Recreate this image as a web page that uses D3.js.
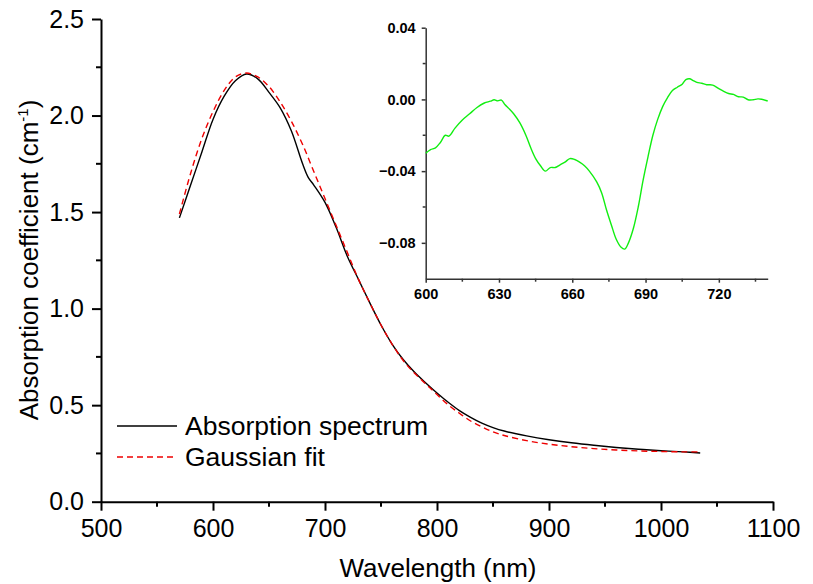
<!DOCTYPE html>
<html>
<head>
<meta charset="utf-8">
<script src="https://cdn.jsdelivr.net/npm/d3@7"></script>
<style>
  body { margin: 0; background: #fff; }
  svg { display: block; font-family: "Liberation Sans", Arial, sans-serif; }
</style>
</head>
<body>
<svg id="chart" width="813" height="584"></svg>
<script>
// absorption spectrum (black)
const specWl = [570, 580, 590, 600, 610, 620, 630, 640, 650, 660, 670, 680, 685, 690, 700, 710, 720, 730, 740, 750, 760, 770, 780, 790, 800, 810, 820, 830, 840, 850, 860, 880, 900, 920, 940, 960, 980, 1000, 1020, 1035];
const specVal = [1.47, 1.64, 1.81, 1.98, 2.10, 2.18, 2.215, 2.19, 2.12, 2.04, 1.92, 1.75, 1.68, 1.64, 1.55, 1.42, 1.27, 1.15, 1.03, 0.915, 0.815, 0.735, 0.67, 0.615, 0.563, 0.515, 0.472, 0.437, 0.407, 0.384, 0.366, 0.341, 0.321, 0.305, 0.292, 0.281, 0.272, 0.264, 0.258, 0.252];

// gaussian fit (red dashed)
const fitWl = [570, 580, 590, 600, 610, 620, 630, 640, 650, 660, 670, 680, 690, 700, 710, 720, 730, 740, 750, 760, 770, 780, 790, 800, 810, 820, 830, 840, 850, 860, 880, 900, 920, 940, 960, 980, 1000, 1020, 1035];
const fitVal = [1.49, 1.70, 1.88, 2.02, 2.13, 2.20, 2.22, 2.20, 2.15, 2.07, 1.97, 1.85, 1.71, 1.57, 1.43, 1.29, 1.15, 1.03, 0.915, 0.815, 0.73, 0.665, 0.61, 0.555, 0.502, 0.458, 0.418, 0.388, 0.362, 0.343, 0.316, 0.298, 0.285, 0.275, 0.268, 0.263, 0.26, 0.258, 0.258];

// inset: difference spectrum (green)
const diffWl = [600, 602, 604, 606, 608, 609.5, 612, 615, 618, 621, 624, 626.5, 628, 629.5, 631, 632.5, 634, 636, 638.5, 641, 643, 645, 647, 649, 651, 653, 655, 657, 659, 661, 663, 665, 667, 670, 672, 674, 676, 678, 680, 681.5, 683, 685, 687, 689, 691, 693, 695, 697, 699, 701, 703, 705, 706.5, 708, 709.5, 711, 713, 715, 717.5, 720, 722, 724, 726, 728, 730, 732, 734, 736, 737.5, 740];
const diffVal = [-0.030, -0.028, -0.027, -0.024, -0.020, -0.0205, -0.016, -0.0115, -0.008, -0.0045, -0.002, -0.001, -0.0002, -0.0008, -0.0004, -0.003, -0.005, -0.008, -0.013, -0.020, -0.027, -0.033, -0.037, -0.040, -0.038, -0.038, -0.0365, -0.035, -0.033, -0.0335, -0.035, -0.037, -0.040, -0.046, -0.052, -0.0615, -0.070, -0.078, -0.0825, -0.0835, -0.080, -0.072, -0.060, -0.045, -0.032, -0.020, -0.011, -0.004, 0.001, 0.005, 0.0068, 0.0085, 0.011, 0.0115, 0.0105, 0.0095, 0.009, 0.0082, 0.008, 0.006, 0.0045, 0.0033, 0.0028, 0.0015, 0.0013, -0.0002, -0.0002, 0.0003, 0.0001, -0.0009];

const xTicks = [500, 600, 700, 800, 900, 1000, 1100];
const yTicks = [0, 0.5, 1.0, 1.5, 2.0, 2.5];
const insetXTicks = [600, 630, 660, 690, 720];
const insetYTicks = [0.04, 0.00, -0.04, -0.08];

const legendItems = [
    { name: 'Absorption spectrum', color: '#000', dash: null },
    { name: 'Gaussian fit', color: '#ee0000', dash: '6,4' }
];

const svg = d3.select('#chart');

// main axes
const x = d3.scaleLinear().domain([500, 1100]).range([101, 773]);
const y = d3.scaleLinear().domain([0, 2.5]).range([501.7, 19]);

const xAxis = d3.axisBottom(x).tickValues(xTicks).tickFormat(d3.format('d')).tickSize(9).tickPadding(8).tickSizeOuter(0);
const yAxis = d3.axisLeft(y).tickValues(yTicks).tickFormat(d3.format('.1f')).tickSize(9).tickPadding(8).tickSizeOuter(0);

const gx = svg.append('g').attr('transform', 'translate(0,501.7)').call(xAxis);
const gy = svg.append('g').attr('transform', 'translate(101,0)').call(yAxis);

// minor ticks
gx.selectAll('.minor').data(d3.range(550, 1100, 100)).enter().append('line')
    .attr('x1', d => x(d)).attr('x2', d => x(d)).attr('y1', 0).attr('y2', 5);
gy.selectAll('.minor').data(d3.range(0.25, 2.5, 0.5)).enter().append('line')
    .attr('y1', d => y(d)).attr('y2', d => y(d)).attr('x1', 0).attr('x2', -5);

for (const g of [gx, gy]) {
    g.selectAll('path, line').attr('stroke', '#000').attr('stroke-width', 2);
    g.selectAll('text').attr('font-size', 25).attr('fill', '#000')
        .attr('font-family', '"Liberation Sans", Arial, sans-serif');
}
gx.selectAll('text').attr('dy', '0.75em');

svg.append('text').attr('x', 438).attr('y', 577).attr('text-anchor', 'middle')
    .attr('font-size', 26).text('Wavelength (nm)');

const ylab = svg.append('text').attr('transform', 'translate(38,260) rotate(-90)')
    .attr('text-anchor', 'middle').attr('font-size', 26);
ylab.append('tspan').text('Absorption coefficient (cm');
ylab.append('tspan').attr('font-size', 15).attr('dy', -10).text('-1');
ylab.append('tspan').attr('dy', 10).text(')');

// curves
const line = d3.line().x(d => x(d[0])).y(d => y(d[1])).curve(d3.curveCatmullRom);

svg.append('path').datum(specWl.map((w, i) => [w, specVal[i]]))
    .attr('d', line).attr('fill', 'none').attr('stroke', '#000').attr('stroke-width', 1.4);
svg.append('path').datum(fitWl.map((w, i) => [w, fitVal[i]]))
    .attr('d', line).attr('fill', 'none').attr('stroke', '#ee0000').attr('stroke-width', 1.4)
    .attr('stroke-dasharray', '6,4');

// legend
const leg = svg.append('g');
legendItems.forEach((item, i) => {
    const ly = 426 + i * 31;
    leg.append('line').attr('x1', 117).attr('x2', 177).attr('y1', ly).attr('y2', ly)
        .attr('stroke', item.color).attr('stroke-width', 1.4)
        .attr('stroke-dasharray', item.dash);
    leg.append('text').attr('x', 185).attr('y', ly + 9).attr('font-size', 26.5).text(item.name);
});

// inset
const ix = d3.scaleLinear().domain([600, 740]).range([425.7, 767.7]);
const iy = d3.scaleLinear().domain([-0.1, 0.04]).range([278.7, 27.7]);

const igx = svg.append('g').attr('transform', 'translate(0,278.7)')
    .call(d3.axisBottom(ix).tickValues(insetXTicks).tickFormat(d3.format('d')).tickSize(4).tickPadding(6).tickSizeOuter(0));
const igy = svg.append('g').attr('transform', 'translate(425.7,0)')
    .call(d3.axisLeft(iy).tickValues(insetYTicks).tickFormat(d3.format('.2f')).tickSize(4).tickPadding(6).tickSizeOuter(0));

igx.selectAll('.minor').data(d3.range(615, 740, 30)).enter().append('line')
    .attr('x1', d => ix(d)).attr('x2', d => ix(d)).attr('y1', 0).attr('y2', 3);
igy.selectAll('.minor').data([0.02, -0.02, -0.06]).enter().append('line')
    .attr('y1', d => iy(d)).attr('y2', d => iy(d)).attr('x1', 0).attr('x2', -3);

for (const g of [igx, igy]) {
    g.selectAll('path, line').attr('stroke', '#333').attr('stroke-width', 1.5);
    g.selectAll('text').attr('font-size', 14.5).attr('font-weight', 'bold').attr('fill', '#000')
        .attr('font-family', '"Liberation Sans", Arial, sans-serif');
}

svg.append('path').datum(diffWl.map((w, i) => [w, diffVal[i]]))
    .attr('d', d3.line().x(d => ix(d[0])).y(d => iy(d[1])).curve(d3.curveCatmullRom))
    .attr('fill', 'none').attr('stroke', '#11ee11').attr('stroke-width', 1.4);
</script>
</body>
</html>
